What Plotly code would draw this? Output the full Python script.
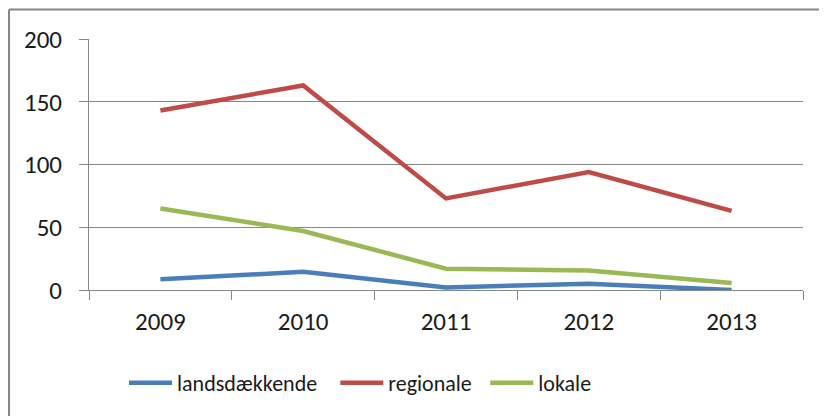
import plotly.graph_objects as go

years = ["2009", "2010", "2011", "2012", "2013"]
landsdaekkende = [8.5, 14.5, 2, 5, 0]
regionale = [143, 163, 73, 94, 63]
lokale = [65, 47, 17, 15.5, 5.5]

series = [
    ("landsdækkende", landsdaekkende, "#4a7ebb", "legend", 0.049),
    ("regionale", regionale, "#be4b48", "legend2", 0.345),
    ("lokale", lokale, "#98b954", "legend3", 0.555),
]

font = "Carlito, Lato, Liberation Sans, sans-serif"
fig = go.Figure()
legends = {}
for name, vals, col, lg, lx in series:
    fig.add_trace(go.Scatter(x=years, y=vals, name=name, mode="lines", legend=lg,
                             line=dict(color=col, width=4.5), cliponaxis=False))
    legends[lg] = dict(orientation="h", x=lx, xanchor="left", y=-0.37, yanchor="middle",
                       font=dict(size=22, family=font, color="#1a1a1a"),
                       itemwidth=43, bgcolor="rgba(0,0,0,0)")

fig.update_layout(
    width=827, height=416,
    margin=dict(l=81, r=32, t=31, b=134),
    paper_bgcolor="white", plot_bgcolor="white",
    font=dict(family=font, size=25, color="#1a1a1a"),
    showlegend=True,
    xaxis=dict(type="category", range=[-0.5, 4.5], tickson="boundaries",
               ticks="outside", ticklen=9, tickcolor="#878787",
               showline=True, linecolor="#878787", linewidth=1,
               showgrid=False, tickfont=dict(size=25), ticklabelstandoff=9),
    yaxis=dict(range=[0, 200], tickvals=[0, 50, 100, 150, 200],
               ticks="outside", ticklen=9, tickcolor="#878787",
               showline=True, linecolor="#878787", linewidth=1,
               gridcolor="#878787", gridwidth=1, zeroline=False,
               tickfont=dict(size=25), ticklabelstandoff=12),
    **legends,
)

# outer chart frame (partly cropped in reference)
fig.add_shape(type="line", xref="paper", yref="paper", x0=-0.112, x1=1.2, y0=1.1175, y1=1.1175,
              line=dict(color="#868686", width=2))
fig.add_shape(type="line", xref="paper", yref="paper", x0=-0.112, x1=-0.112, y0=1.1175, y1=-0.6,
              line=dict(color="#868686", width=2))

fig.write_html("out.html")
